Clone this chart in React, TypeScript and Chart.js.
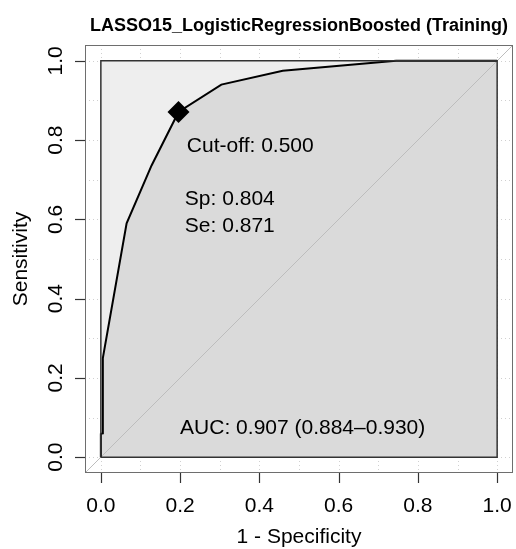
import React, { useEffect, useRef } from "react";
import { Chart, registerables } from "chart.js";

Chart.register(...registerables);

const TITLE = "LASSO15_LogisticRegressionBoosted (Training)";
const X_TITLE = "1 - Specificity";
const Y_TITLE = "Sensitivity";
const TICKS = [0, 0.2, 0.4, 0.6, 0.8, 1.0];
const TICK_LABELS = ["0.0", "0.2", "0.4", "0.6", "0.8", "1.0"];
const GRID = [0, 0.1, 0.2, 0.3, 0.4, 0.5, 0.6, 0.7, 0.8, 0.9, 1.0];

// ROC curve: x = 1 - specificity, y = sensitivity
const FPR = [0, 0, 0.004, 0.005, 0.065, 0.128, 0.196, 0.304, 0.459, 0.652, 0.745, 1.0];
const TPR = [0, 0.058, 0.06, 0.25, 0.59, 0.736, 0.871, 0.94, 0.975, 0.992, 1.0, 1.0];

const CUTOFF_FPR = [0.196];
const CUTOFF_TPR = [0.871];

const SQUARE_X = [0, 0, 1, 1, 0];
const SQUARE_Y = [0, 1, 1, 0, 0];
const UPPER_X = [0, 1];
const UPPER_Y = [1, 1];
const DIAG = [-0.04, 1.04];

const CUTOFF_TEXT = "Cut-off: 0.500";
const SP_TEXT = "Sp: 0.804";
const SE_TEXT = "Se: 0.871";
const AUC_TEXT = "AUC: 0.907 (0.884\u20130.930)";

const FONT = '"Liberation Sans", Arial, sans-serif';

const zip = (xs: number[], ys: number[]) => xs.map((x, i) => ({ x, y: ys[i] }));

export default function App() {
  const ref = useRef<HTMLCanvasElement | null>(null);

  useEffect(() => {
    if (!ref.current) return;

    const bgPlugin = {
      id: "rbg",
      beforeDraw(chart: any) {
        const { ctx, chartArea: a } = chart;
        const xs = chart.scales.x;
        const ys = chart.scales.y;
        ctx.save();
        ctx.fillStyle = "#ffffff";
        ctx.fillRect(a.left, a.top, a.right - a.left, a.bottom - a.top);
        ctx.strokeStyle = "#d0d0d0";
        ctx.lineWidth = 1;
        ctx.setLineDash([1, 3]);
        GRID.forEach((v) => {
          const px = Math.round(xs.getPixelForValue(v)) + 0.5;
          ctx.beginPath();
          ctx.moveTo(px, a.top);
          ctx.lineTo(px, a.bottom);
          ctx.stroke();
          const py = Math.round(ys.getPixelForValue(v)) + 0.5;
          ctx.beginPath();
          ctx.moveTo(a.left, py);
          ctx.lineTo(a.right, py);
          ctx.stroke();
        });
        ctx.restore();
      },
      afterDatasetsDraw(chart: any) {
        const { ctx, chartArea: a } = chart;
        const xs = chart.scales.x;
        const ys = chart.scales.y;
        ctx.save();
        // box
        ctx.strokeStyle = "#6e6e6e";
        ctx.lineWidth = 1;
        ctx.strokeRect(a.left + 0.5, a.top + 0.5, a.right - a.left - 1, a.bottom - a.top - 1);
        // ticks
        ctx.strokeStyle = "#333333";
        ctx.lineWidth = 1.2;
        TICKS.forEach((v) => {
          const px = Math.round(xs.getPixelForValue(v)) + 0.5;
          ctx.beginPath();
          ctx.moveTo(px, a.bottom);
          ctx.lineTo(px, a.bottom + 10);
          ctx.stroke();
          const py = Math.round(ys.getPixelForValue(v)) + 0.5;
          ctx.beginPath();
          ctx.moveTo(a.left, py);
          ctx.lineTo(a.left - 10, py);
          ctx.stroke();
        });
        ctx.fillStyle = "#000000";
        ctx.font = "21px " + FONT;
        ctx.textAlign = "center";
        ctx.textBaseline = "alphabetic";
        TICKS.forEach((v, i) => {
          ctx.fillText(TICK_LABELS[i], xs.getPixelForValue(v), a.bottom + 39);
          ctx.save();
          ctx.translate(a.left - 23, ys.getPixelForValue(v));
          ctx.rotate(-Math.PI / 2);
          ctx.fillText(TICK_LABELS[i], 0, 0);
          ctx.restore();
        });
        const cx = (a.left + a.right) / 2;
        const cy = (a.top + a.bottom) / 2;
        ctx.fillText(X_TITLE, cx, a.bottom + 70);
        ctx.save();
        ctx.translate(27, cy);
        ctx.rotate(-Math.PI / 2);
        ctx.fillText(Y_TITLE, 0, 0);
        ctx.restore();
        ctx.font = "bold 18px " + FONT;
        ctx.fillText(TITLE, cx, 31);
        // annotations
        ctx.font = "21px " + FONT;
        ctx.textAlign = "left";
        ctx.fillText(CUTOFF_TEXT, xs.getPixelForValue(0.217), ys.getPixelForValue(0.769));
        ctx.fillText(SP_TEXT, xs.getPixelForValue(0.212), ys.getPixelForValue(0.636));
        ctx.fillText(SE_TEXT, xs.getPixelForValue(0.212), ys.getPixelForValue(0.568));
        ctx.fillText(AUC_TEXT, xs.getPixelForValue(0.2), ys.getPixelForValue(0.058));
        ctx.restore();
      },
    };

    const chart = new Chart(ref.current, {
      type: "scatter",
      data: {
        datasets: [
          {
            label: "cutoff",
            data: zip(CUTOFF_FPR, CUTOFF_TPR),
            pointStyle: "rectRot",
            pointRadius: 11,
            pointBackgroundColor: "#000000",
            pointBorderColor: "#000000",
            pointBorderWidth: 0,
            showLine: false,
            order: 0,
          },
          {
            label: "square",
            data: zip(SQUARE_X, SQUARE_Y),
            showLine: true,
            borderColor: "#333333",
            borderWidth: 1.5,
            pointRadius: 0,
            fill: false,
            order: 1,
          },
          {
            label: "roc",
            data: zip(FPR, TPR),
            showLine: true,
            borderColor: "#000000",
            borderWidth: 2,
            pointRadius: 0,
            fill: { value: 0 },
            backgroundColor: "#dadada",
            order: 2,
          },
          {
            label: "diag",
            data: zip(DIAG, DIAG),
            showLine: true,
            borderColor: "#bdbdbd",
            borderWidth: 1,
            pointRadius: 0,
            fill: false,
            order: 3,
          },
          {
            label: "upper",
            data: zip(UPPER_X, UPPER_Y),
            showLine: true,
            borderWidth: 0,
            borderColor: "rgba(0,0,0,0)",
            pointRadius: 0,
            fill: { value: 0 },
            backgroundColor: "#eeeeee",
            order: 4,
          },
        ],
      },
      options: {
        animation: false,
        responsive: false,
        devicePixelRatio: 1,
        layout: { autoPadding: false, padding: { left: 85, top: 45, right: 3, bottom: 76 } },
        scales: {
          x: { type: "linear", min: -0.04, max: 1.04, display: false },
          y: { type: "linear", min: -0.04, max: 1.04, display: false },
        },
        plugins: {
          legend: { display: false },
          tooltip: { enabled: false },
          title: { display: false },
          filler: { drawTime: "beforeDatasetsDraw" },
        },
      } as any,
      plugins: [bgPlugin],
    });
    return () => chart.destroy();
  }, []);

  return (
    <canvas
      ref={ref}
      width={516}
      height={549}
      style={{ position: "absolute", left: 0, top: 0, width: 516, height: 549 }}
    />
  );
}
